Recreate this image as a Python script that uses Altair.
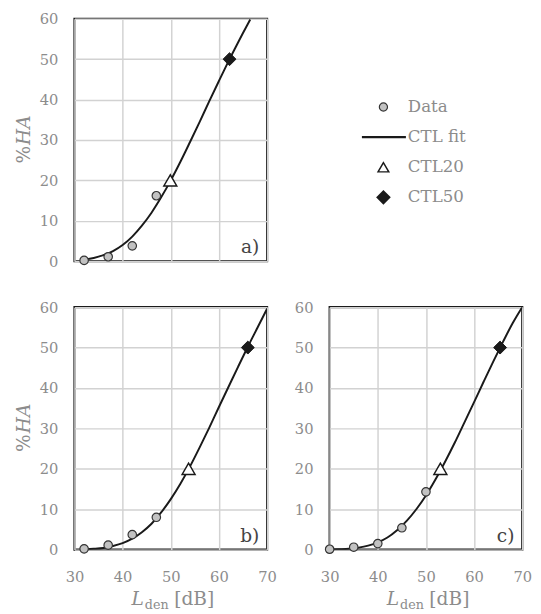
import altair as alt
import pandas as pd

FONT = "DejaVu Serif"
GRAY = "#8c8c8c"
DARK = "#1a1a1a"

x_ticks = [30, 40, 50, 60, 70]
y_ticks = [0, 10, 20, 30, 40, 50, 60]

# panel a)
a_data_L = [32, 37, 42, 47]
a_data_HA = [0.2, 1.1, 3.8, 16.2]
a_fit_L = [32, 34, 36, 38, 40, 42, 44, 46, 48, 50, 52, 54, 56, 58, 60, 62, 64, 66, 66.5]
a_fit_HA = [0.4, 0.8, 1.5, 2.5, 4.0, 6.1, 8.8, 12.0, 15.8, 20.0, 24.6, 29.5, 34.5, 39.6, 44.6, 49.5, 54.2, 58.7, 59.8]
a_ctl20 = (49.9, 20)
a_ctl50 = (62.2, 50)

# panel b)
b_data_L = [32, 37, 42, 47]
b_data_HA = [0.2, 1.1, 3.7, 8.0]
b_fit_L = [32, 34, 36, 38, 40, 42, 44, 46, 48, 50, 52, 54, 56, 58, 60, 62, 64, 66, 68, 70]
b_fit_HA = [0.1, 0.2, 0.4, 0.9, 1.6, 2.7, 4.3, 6.4, 9.2, 12.5, 16.3, 20.6, 25.3, 30.2, 35.3, 40.3, 45.3, 50.2, 54.9, 59.6]
b_ctl20 = (53.7, 20)
b_ctl50 = (66.0, 50)

# panel c)
c_data_L = [30, 35, 40, 45, 50]
c_data_HA = [0.1, 0.6, 1.5, 5.4, 14.3]
c_fit_L = [30, 32, 34, 36, 38, 40, 42, 44, 46, 48, 50, 52, 54, 56, 58, 60, 62, 64, 66, 68, 70]
c_fit_HA = [0.03, 0.1, 0.2, 0.5, 1.0, 1.8, 3.0, 4.8, 7.1, 10.0, 13.4, 17.4, 21.8, 26.5, 31.5, 36.5, 41.6, 46.6, 51.4, 56.0, 60.0]
c_ctl20 = (53.0, 20)
c_ctl50 = (65.4, 50)

legend_labels = ["Data", "CTL fit", "CTL20", "CTL50"]

W, H = 197, 248
one = pd.DataFrame({"k": [0]})


def panel(tag, dL, dH, fL, fH, c20, c50, show_x, show_ytitle):
    xs = alt.Scale(domain=[30, 70], nice=False, zero=False)
    ys = alt.Scale(domain=[0, 60], nice=False)
    xaxis = alt.Axis(values=x_ticks, labels=show_x, ticks=False, domain=False, title=None,
                     grid=True, gridColor="#d2d2d2", gridWidth=1.5, labelPadding=21,
                     labelFontSize=15, labelColor=GRAY, labelFont=FONT, labelFlush=False)
    yaxis = alt.Axis(values=y_ticks, ticks=False, domain=False, title=None,
                     grid=True, gridColor="#d2d2d2", gridWidth=1.5, labelPadding=17,
                     labelFontSize=15, labelColor=GRAY, labelFont=FONT)
    X = lambda f: alt.X(f, type="quantitative", scale=xs, axis=xaxis)
    Y = lambda f: alt.Y(f, type="quantitative", scale=ys, axis=yaxis)

    fit = alt.Chart(pd.DataFrame({"L": fL, "HA": fH})).mark_line(
        color=DARK, strokeWidth=2, interpolate="monotone", clip=True
    ).encode(x=X("L"), y=Y("HA"))
    pts = alt.Chart(pd.DataFrame({"L": dL, "HA": dH})).mark_point(
        shape="circle", size=75, fill="#c2c2c2", stroke="#333333", strokeWidth=1.2,
        fillOpacity=1, strokeOpacity=1
    ).encode(x=X("L"), y=Y("HA"))
    t20 = alt.Chart(pd.DataFrame({"L": [c20[0]], "HA": [c20[1]]})).mark_point(
        shape="triangle-up", size=175, fill="white", stroke=DARK, strokeWidth=1.5,
        fillOpacity=1, strokeOpacity=1
    ).encode(x=X("L"), y=Y("HA"))
    d50 = alt.Chart(pd.DataFrame({"L": [c50[0]], "HA": [c50[1]]})).mark_point(
        shape="diamond", size=175, fill=DARK, stroke=DARK, strokeWidth=1,
        fillOpacity=1, strokeOpacity=1
    ).encode(x=X("L"), y=Y("HA"))
    lab = alt.Chart(one).mark_text(
        text=tag, align="right", baseline="alphabetic", fontSize=19, font=FONT, color="#444444"
    ).encode(x=alt.value(W - 8), y=alt.value(H - 8))

    layers = [fit, pts, t20, d50, lab]
    if show_ytitle:
        layers.append(alt.Chart(one).mark_text(
            text="%", align="right", baseline="alphabetic", angle=270, fontSize=19,
            font=FONT, color=GRAY).encode(x=alt.value(-46), y=alt.value(130)))
        layers.append(alt.Chart(one).mark_text(
            text="HA", align="left", baseline="alphabetic", angle=270, fontSize=19,
            font=FONT, fontStyle="italic", color=GRAY).encode(x=alt.value(-46), y=alt.value(129)))
    if show_x:
        layers.append(alt.Chart(one).mark_text(
            text="L", align="right", baseline="alphabetic", fontSize=19, font=FONT,
            fontStyle="italic", color=GRAY).encode(x=alt.value(71), y=alt.value(H + 57)))
        layers.append(alt.Chart(one).mark_text(
            text="den", align="left", baseline="alphabetic", fontSize=13, font=FONT,
            color=GRAY).encode(x=alt.value(72), y=alt.value(H + 61)))
        layers.append(alt.Chart(one).mark_text(
            text="[dB]", align="left", baseline="alphabetic", fontSize=19, font=FONT,
            color=GRAY).encode(x=alt.value(102), y=alt.value(H + 57)))
    return alt.layer(*layers).properties(width=W, height=H)


pa = panel("a)", a_data_L, a_data_HA, a_fit_L, a_fit_HA, a_ctl20, a_ctl50, False, True)
pb = panel("b)", b_data_L, b_data_HA, b_fit_L, b_fit_HA, b_ctl20, b_ctl50, True, True)
pc = panel("c)", c_data_L, c_data_HA, c_fit_L, c_fit_HA, c_ctl20, c_ctl50, True, False)

# legend
leg_df = pd.DataFrame({"label": legend_labels, "idx": list(range(len(legend_labels)))})
ly = alt.Scale(domain=[-2.93, 5.12], reverse=True)
LY = alt.Y("idx:Q", scale=ly, axis=None)
lbase = alt.Chart(leg_df)
l_text = lbase.mark_text(align="left", baseline="middle", fontSize=17, font=FONT, color=GRAY).encode(
    x=alt.value(130), y=LY, text="label:N")
l_data = lbase.transform_filter(alt.datum.idx == 0).mark_point(
    shape="circle", size=70, fill="#c2c2c2", stroke="#333333", strokeWidth=1.2,
    fillOpacity=1, strokeOpacity=1).encode(x=alt.value(105), y=LY)
l_fit = lbase.transform_filter(alt.datum.idx == 1).mark_rule(
    color=DARK, strokeWidth=2.5).encode(x=alt.value(83), x2=alt.value(128), y=LY)
l_20 = lbase.transform_filter(alt.datum.idx == 2).mark_point(
    shape="triangle-up", size=120, fill="white", stroke=DARK, strokeWidth=1.5,
    fillOpacity=1, strokeOpacity=1).encode(x=alt.value(105), y=LY)
l_50 = lbase.transform_filter(alt.datum.idx == 3).mark_point(
    shape="diamond", size=150, fill=DARK, stroke=DARK, fillOpacity=1, strokeOpacity=1
).encode(x=alt.value(105), y=LY)
legend = alt.layer(l_text, l_data, l_fit, l_20, l_50).properties(
    width=200, height=H, view=alt.ViewBackground(stroke="transparent"))

top = alt.hconcat(pa, legend, spacing=10)
bottom = alt.hconcat(pb, pc, spacing=15)
chart = alt.vconcat(top, bottom, spacing=28).properties(
    padding={"left": 5, "top": -5, "right": 0, "bottom": 0}
).configure_view(stroke=DARK, strokeWidth=2.2)

chart.save("out.html", embed_options={"renderer": "svg", "actions": False})
